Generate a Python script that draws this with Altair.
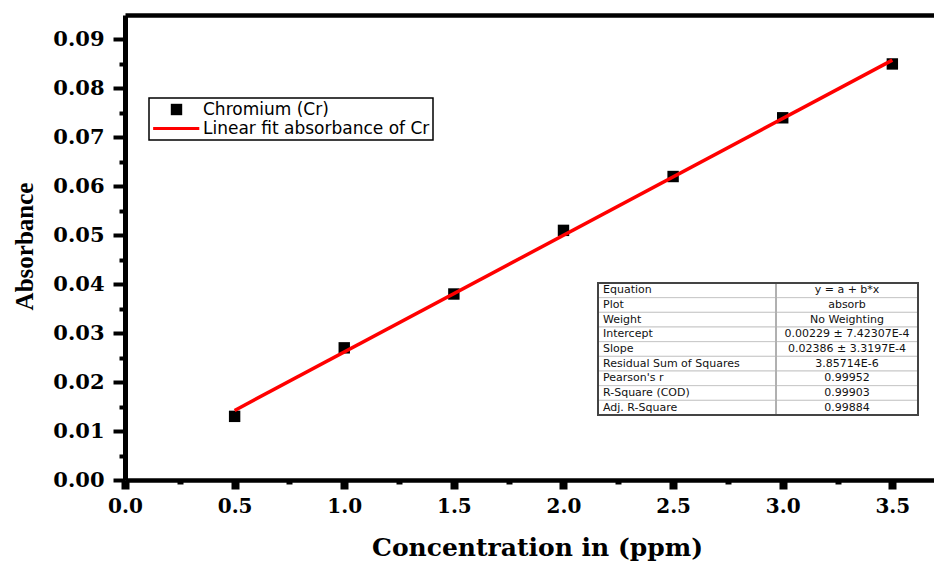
import altair as alt
import pandas as pd

# ---- data ----
conc = [0.5, 1.0, 1.5, 2.0, 2.5, 3.0, 3.5]
absorb = [0.013, 0.027, 0.038, 0.051, 0.062, 0.074, 0.085]
series_names = ["Chromium (Cr)", "Linear fit absorbance of Cr"]
series_colors = ["black", "red"]
x_ticks = [0.0, 0.25, 0.5, 0.75, 1.0, 1.25, 1.5, 1.75, 2.0, 2.25, 2.5, 2.75, 3.0, 3.25, 3.5]
y_ticks = [0.0, 0.005, 0.01, 0.015, 0.02, 0.025, 0.03, 0.035, 0.04, 0.045,
           0.05, 0.055, 0.06, 0.065, 0.07, 0.075, 0.08, 0.085, 0.09]
table_keys = ["Equation", "Plot", "Weight", "Intercept", "Slope",
              "Residual Sum of Squares", "Pearson's r", "R-Square (COD)", "Adj. R-Square"]
table_vals = ["y = a + b*x", "absorb", "No Weighting", "0.00229 \u00b1 7.42307E-4",
              "0.02386 \u00b1 3.3197E-4", "3.85714E-6", "0.99952", "0.99903", "0.99884"]

df = pd.DataFrame({"x": conc, "y": absorb, "series": series_names[0]})
tdf = pd.DataFrame({"key": table_keys, "val": table_vals})

SERIF = "Liberation Serif"
WIDE_SERIF = "DejaVu Serif"
WIDE_SANS = "DejaVu Sans"
LINE_SYM = "M-4.1,-0.27L4.0,-0.27L4.0,0.27L-4.1,0.27Z"

xs = alt.Scale(domain=[0, 3.69], nice=False, zero=False)
ys = alt.Scale(domain=[0, 0.095], nice=False, zero=False)

x_axis = alt.Axis(
    title="Concentration in (ppm)", values=x_ticks, grid=False,
    labelExpr="round(datum.value*4) % 2 == 0 ? format(datum.value, '.1f') : ''",
    tickSize={"condition": {"test": "round(datum.value*4) % 2 == 0", "value": 9}, "value": 4},
    tickWidth={"condition": {"test": "round(datum.value*4) % 2 == 0", "value": 8}, "value": 6},
    tickColor="black", domainColor="black", domainWidth=4.5,
    labelFont=WIDE_SERIF, labelFontWeight="bold", labelFontSize=20, labelColor="black",
    labelPadding=7, labelFlush=False, labelOverlap=False,
    titleFont=WIDE_SERIF, titleFontWeight="bold", titleFontSize=25, titleColor="black",
    titleX=412, titleY=75, titleAlign="center", titleBaseline="alphabetic", titleAnchor="middle",
)
x_top_axis = alt.Axis(orient="top", title=None, labels=False, ticks=False, grid=False,
                      domainColor="black", domainWidth=4.5)
y_axis = alt.Axis(
    title="Absorbance", values=y_ticks, grid=False,
    labelExpr="round(datum.value*200) % 2 == 0 ? format(datum.value, '.2f') : ''",
    tickSize={"condition": {"test": "round(datum.value*200) % 2 == 0", "value": 12}, "value": 6},
    tickWidth=4, tickColor="black", domainColor="black", domainWidth=5,
    labelFont=WIDE_SERIF, labelFontWeight="bold", labelFontSize=21, labelColor="black",
    labelPadding=9, labelFlush=False, labelOverlap=False,
    titleFont=SERIF, titleFontWeight="bold", titleFontSize=25, titleColor="black",
    titleX=-101, titleY=231, titleAngle=270, titleAlign="center", titleBaseline="middle",
    titleAnchor="middle",
)

legend = alt.Legend(title=None, orient="none", legendX=24, legendY=83, labelLimit=0)
color = alt.Color("series:N", scale=alt.Scale(domain=series_names, range=series_colors), legend=legend)
shape = alt.Shape("series:N", scale=alt.Scale(domain=series_names, range=["square", LINE_SYM]), legend=legend)

points = alt.Chart(df).mark_point(filled=True, size=130, opacity=1).encode(
    x=alt.X("x:Q", scale=xs, axis=x_axis),
    y=alt.Y("y:Q", scale=ys, axis=y_axis),
    color=color, shape=shape,
)
fit = alt.Chart(df).transform_regression(
    "x", "y", method="linear", extent=[0.5, 3.5]
).transform_calculate(series=f"'{series_names[1]}'").mark_line(strokeWidth=3.5).encode(
    x=alt.X("x:Q", scale=xs, axis=x_top_axis),
    y=alt.Y("y:Q", scale=ys, axis=y_axis),
    color=color,
)
main = alt.layer(points, fit).resolve_axis(x="independent")

rows = alt.Y("key:N", sort=table_keys,
             scale=alt.Scale(type="band", domain=table_keys, range=[268, 400], paddingInner=0, paddingOuter=0),
             axis=None)
cells = alt.Chart(tdf).mark_rect(fill="white", stroke="#c8c8c8", strokeWidth=1).encode(
    x=alt.value(473), x2=alt.value(793), y=rows)
sep = alt.Chart(tdf).mark_rule(color="#b0b0b0", strokeWidth=1).encode(
    x=alt.value(651), y=alt.value(268), y2=alt.value(400))
frame = alt.Chart(tdf).mark_rect(fillOpacity=0, stroke="#444444", strokeWidth=1.3).encode(
    x=alt.value(473), x2=alt.value(793), y=alt.value(268), y2=alt.value(400))
keys_txt = alt.Chart(tdf).mark_text(align="left", font=WIDE_SANS, fontSize=11, color="#111111").encode(
    x=alt.value(478), y=rows, text="key:N")
vals_txt = alt.Chart(tdf).mark_text(align="center", font=WIDE_SANS, fontSize=11, color="#111111").encode(
    x=alt.value(722), y=rows, text="val:N")
table = alt.layer(cells, sep, frame, keys_txt, vals_txt)

chart = alt.layer(main, table).resolve_scale(y="independent").properties(
    width=809, height=465,
    padding={"left": 125, "top": 15, "right": 0, "bottom": 81},
    autosize=alt.AutoSizeParams(type="none"),
).configure_view(stroke=None).configure_legend(
    strokeColor="black", strokeWidth=1.5, fillColor="white", padding=3,
    labelFont=WIDE_SANS, labelFontSize=17, labelColor="black", labelOffset=18,
    symbolSize=130, symbolStrokeWidth=0, symbolOffset=16, rowPadding=1,
)

chart.save("out.html", embed_options={"renderer": "svg", "actions": False})
